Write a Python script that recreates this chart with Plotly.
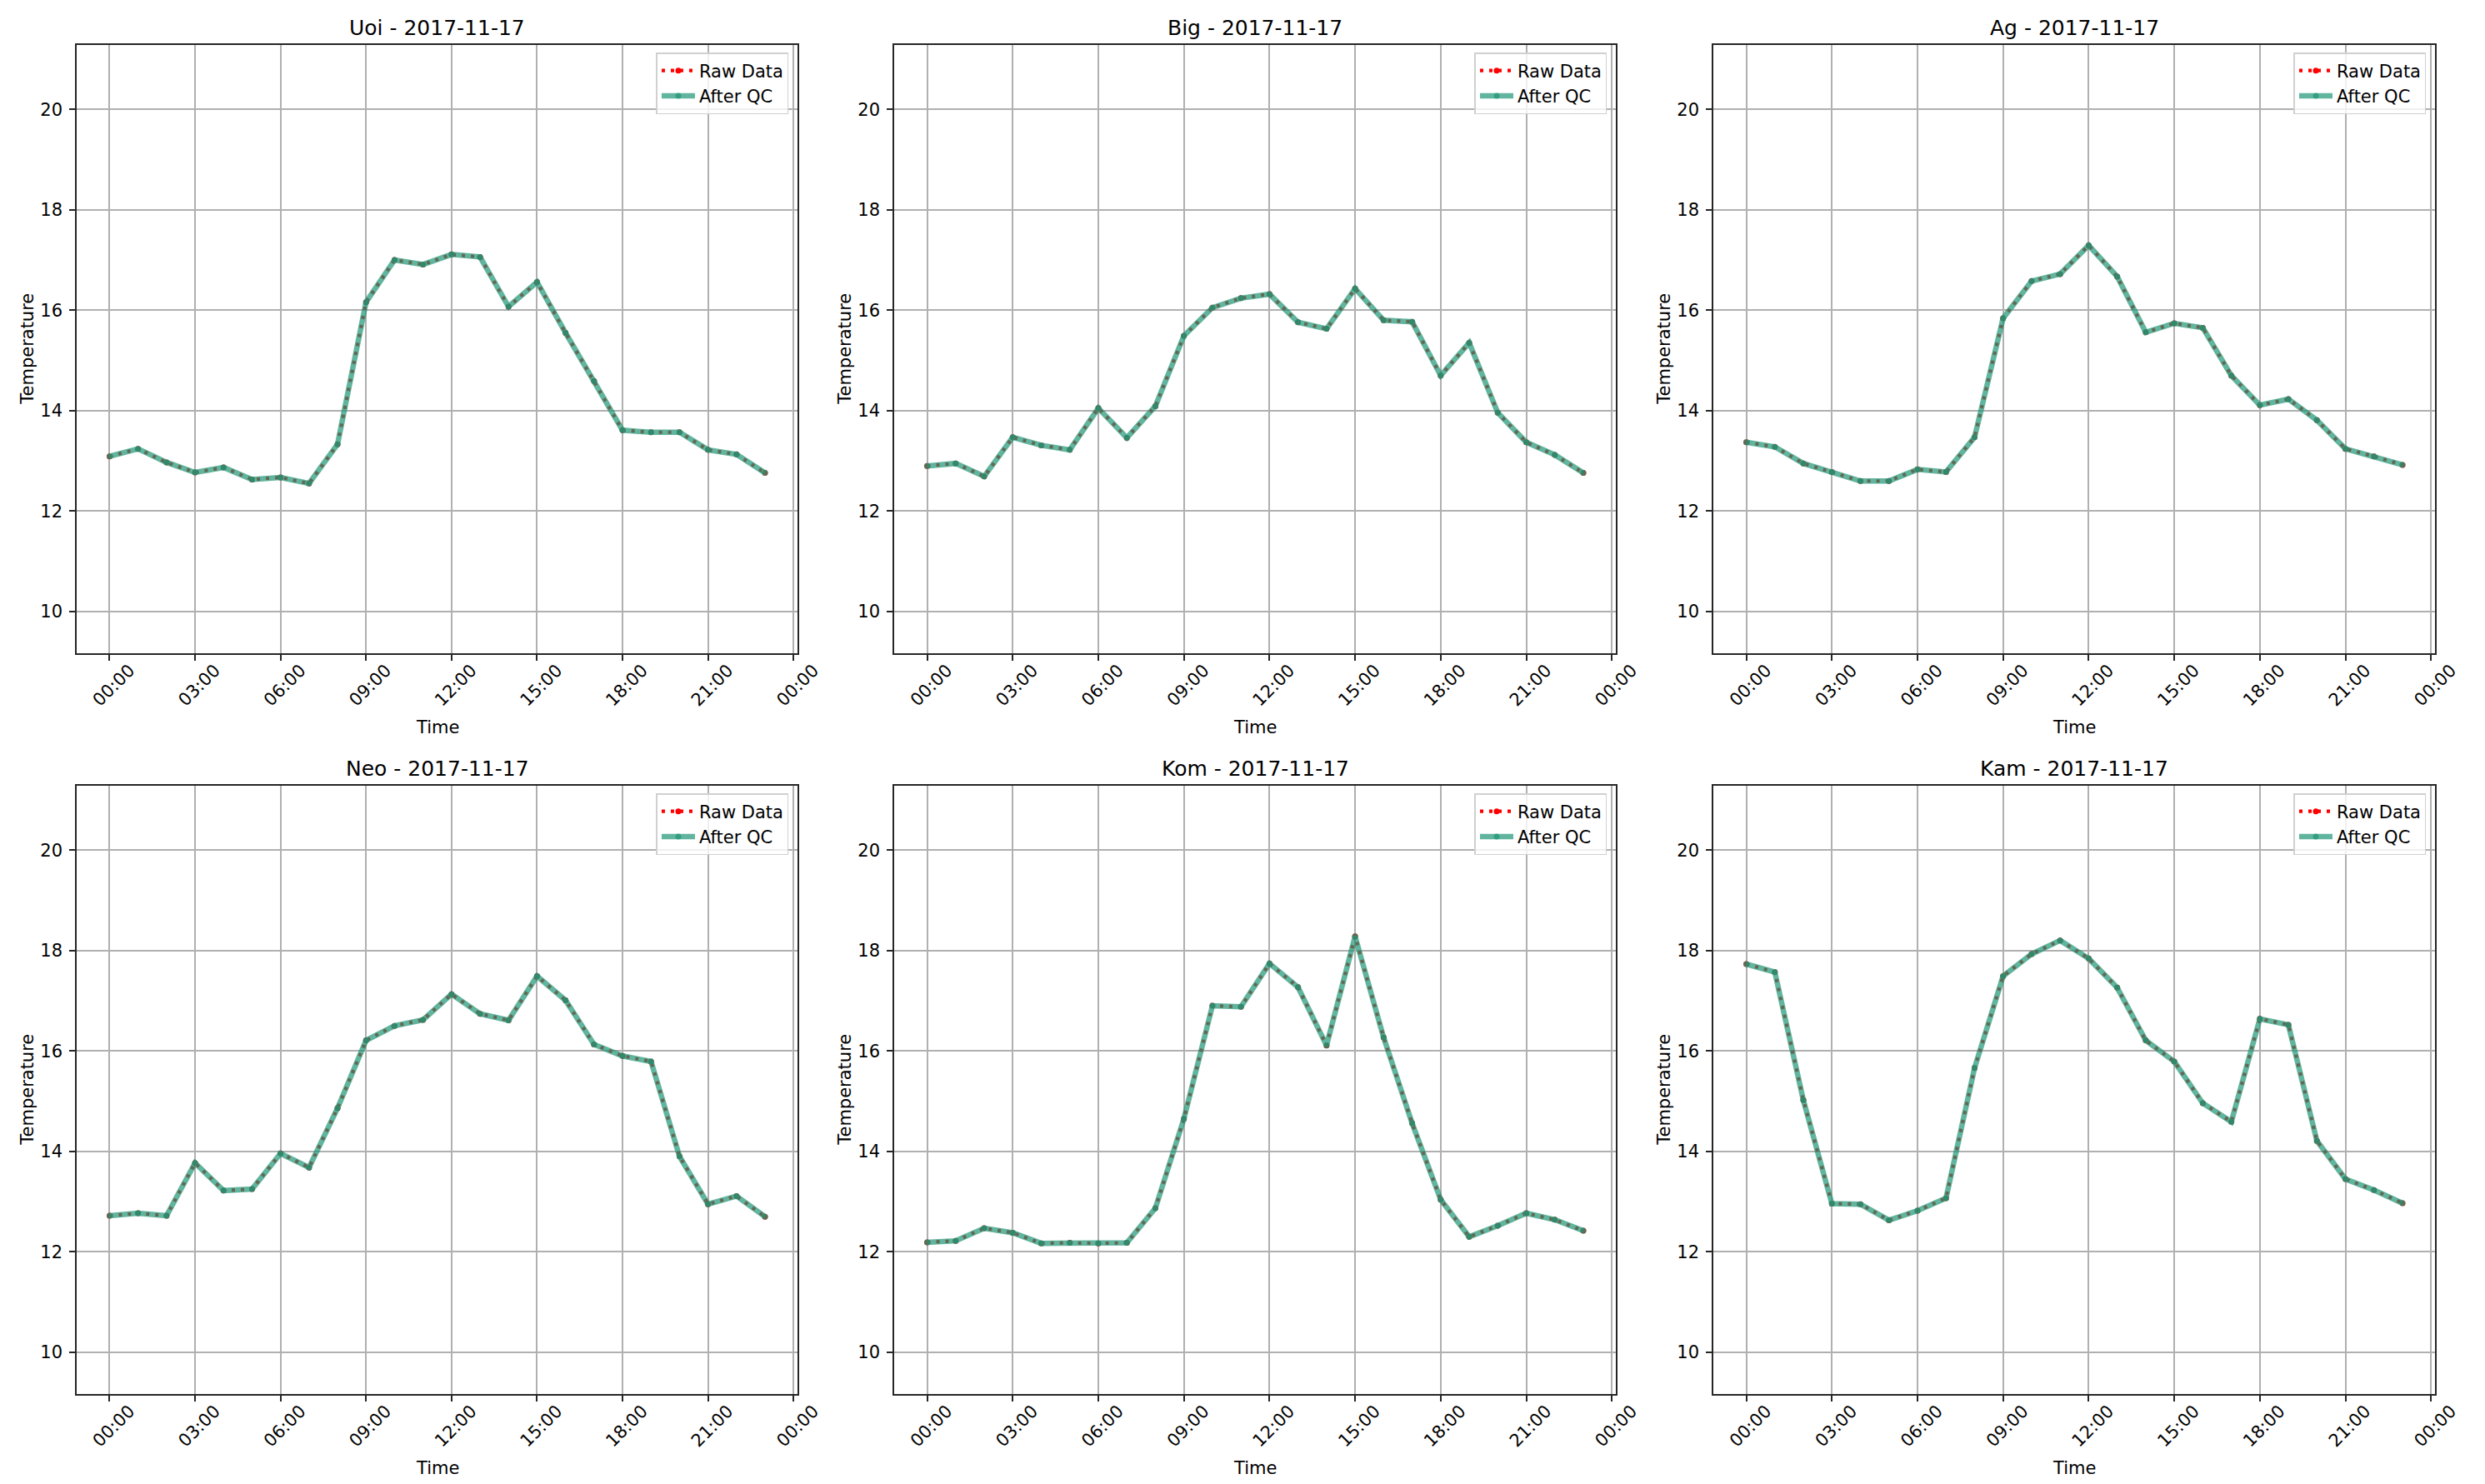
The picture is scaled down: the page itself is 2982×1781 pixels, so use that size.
import pandas as pd
import plotly.graph_objects as go

W, H = 2982, 1781
date = "2017-11-17"
stations = ["Uoi", "Big", "Ag", "Neo", "Kom", "Kam"]
hours = ["%02d:00" % h for h in range(24)]

uoi = [13.09, 13.24, 12.97, 12.77, 12.87, 12.63, 12.67, 12.55, 13.33, 16.16, 17.00, 16.91,
       17.11, 17.06, 16.07, 16.56, 15.55, 14.59, 13.61, 13.57, 13.57, 13.22, 13.13, 12.76]
big = [12.90, 12.95, 12.69, 13.47, 13.31, 13.22, 14.05, 13.46, 14.09, 15.49, 16.05, 16.24,
       16.32, 15.76, 15.63, 16.43, 15.80, 15.77, 14.70, 15.35, 13.96, 13.37, 13.12, 12.76]
ag = [13.37, 13.28, 12.95, 12.78, 12.60, 12.60, 12.83, 12.78, 13.47, 15.84, 16.58, 16.72,
      17.29, 16.67, 15.56, 15.74, 15.65, 14.70, 14.11, 14.23, 13.81, 13.24, 13.09, 12.92]
neo = [12.72, 12.77, 12.72, 13.77, 13.22, 13.25, 13.96, 13.68, 14.86, 16.21, 16.50, 16.62,
       17.13, 16.74, 16.61, 17.49, 17.01, 16.13, 15.90, 15.79, 13.90, 12.95, 13.11, 12.70]
kom = [12.19, 12.22, 12.47, 12.38, 12.17, 12.18, 12.17, 12.18, 12.87, 14.65, 16.90, 16.88,
       17.74, 17.27, 16.11, 18.28, 16.27, 14.56, 13.04, 12.30, 12.52, 12.77, 12.64, 12.42]
kam = [17.73, 17.57, 15.02, 12.96, 12.95, 12.63, 12.82, 13.07, 15.66, 17.49, 17.93, 18.20,
       17.84, 17.26, 16.21, 15.79, 14.96, 14.59, 16.64, 16.52, 14.21, 13.45, 13.23, 12.97]

raw_series = [uoi, big, ag, neo, kom, kam]
qc_series = [uoi, big, ag, neo, kom, kam]
y_ticks = [10, 12, 14, 16, 18, 20]

times = pd.to_datetime([f"{date} {h}" for h in hours])
span = times[-1] - times[0]
xr = [times[0] - 0.05 * span, times[-1] + 0.05 * span]
allv = [v for s in raw_series for v in s]
yr = [min(allv) - 3, max(allv) + 3]

FONT = "DejaVu Sans"
QC_LINE = "rgba(30,150,118,0.70)"
QC_MARK = "rgba(30,150,118,0.70)"

# pixel layout of axes
col_x = [(85, 959), (1076, 1951), (2069, 2944)]
row_y = [(46, 776), (935, 1665)]

fig = go.Figure()
layout = dict(width=W, height=H, autosize=False, margin=dict(l=0, r=0, t=0, b=0),
              paper_bgcolor="white", plot_bgcolor="white", showlegend=True,
              font=dict(family=FONT, size=21, color="black"))
annotations = []

for i, name in enumerate(stations):
    r, c = divmod(i, 3)
    x0, x1 = col_x[c]
    y0, y1 = row_y[r]
    ax = "" if i == 0 else str(i + 1)
    xref, yref = "x" + ax, "y" + ax
    leg = "legend" if i == 0 else "legend%d" % (i + 1)
    fig.add_trace(go.Scatter(
        x=times, y=raw_series[i], mode="lines+markers", name="Raw Data",
        line=dict(color="red", width=4.2, dash="4px,7px"),
        marker=dict(color="red", size=7, line=dict(width=0)),
        xaxis=xref, yaxis=yref, legend=leg))
    fig.add_trace(go.Scatter(
        x=times, y=qc_series[i], mode="lines+markers", name="After QC",
        line=dict(color=QC_LINE, width=6.5),
        marker=dict(color=QC_MARK, size=7, line=dict(width=0)),
        xaxis=xref, yaxis=yref, legend=leg))

    common = dict(showline=True, linecolor="#262626", linewidth=1.8, mirror=True,
                  ticks="outside", ticklen=7, tickwidth=1.6, tickcolor="#262626",
                  showgrid=True, gridcolor="#b0b0b0", gridwidth=1.6, zeroline=False,
                  tickfont=dict(family=FONT, size=21, color="black"))
    layout["xaxis" + ax] = dict(common, domain=[x0 / W, x1 / W], anchor=yref,
                                type="date", range=xr, tick0=times[0], dtick=3 * 3600 * 1000,
                                tickformat="%H:%M", tickangle=-45, ticklabelshift=24,
                                ticklabelstandoff=-9)
    layout["yaxis" + ax] = dict(common, domain=[1 - y1 / H, 1 - y0 / H], anchor=xref,
                                range=yr, tickvals=y_ticks, ticklabelstandoff=4)
    layout[leg] = dict(x=(x1 - 11) / W, y=1 - (y0 + 9) / H, xanchor="right", yanchor="top",
                       bgcolor="rgba(255,255,255,0.8)", bordercolor="#d0d0d0", borderwidth=1.5,
                       font=dict(family=FONT, size=21, color="black"),
                       tracegroupgap=0, itemwidth=40)
    annotations.append(dict(text=f"{name} - {date}", x=(x0 + x1) / 2 / W, y=1 - (y0 - 21) / H,
                            xref="paper", yref="paper", showarrow=False, xanchor="center",
                            yanchor="middle", font=dict(family=FONT, size=25, color="black")))
    annotations.append(dict(text="Time", x=(x0 + x1) / 2 / W, y=1 - (y1 + 89) / H,
                            xref="paper", yref="paper", showarrow=False, xanchor="center",
                            yanchor="middle", font=dict(family=FONT, size=21, color="black")))
    annotations.append(dict(text="Temperature", x=(x0 - 60) / W, y=1 - (y0 + y1) / 2 / H,
                            xref="paper", yref="paper", showarrow=False, xanchor="center",
                            yanchor="middle", textangle=-90,
                            font=dict(family=FONT, size=21, color="black")))

layout["annotations"] = annotations
fig.update_layout(**layout)
fig.write_html("out.html")
